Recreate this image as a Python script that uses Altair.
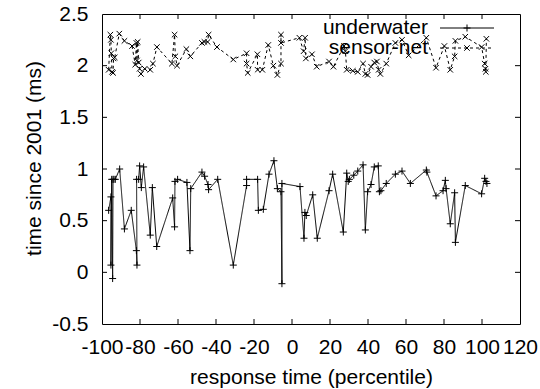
import altair as alt
import pandas as pd

# ---- data ----
uw_x = [-96.5, -95.3, -95.3, -94.9, -94.4, -94.2, -93.7, -93.0, -90.7, -88.2,
        -84.6, -81.9, -81.6, -81.8, -80.7, -80.2, -79.3, -78.1, -74.6, -73.5,
        -71.2, -62.8, -61.8, -61.6, -60.2, -55.3, -53.7, -53.3, -47.4, -46.0,
        -44.2, -43.9, -39.1, -30.9, -23.9, -23.9, -18.1, -17.7, -15.1, -12.1,
        -9.5, -7.7, -5.8, -5.3, -5.3, 4.2, 6.3, 6.8, 7.5, 10.9,
        13.3, 19.5, 21.4, 27.0, 28.8, 29.6, 30.2, 32.5, 34.6, 37.4,
        38.6, 39.8, 41.6, 43.3, 45.4, 46.0, 46.8, 49.6, 54.4, 57.9,
        62.3, 70.7, 71.0, 75.8, 79.5, 80.7, 81.1, 83.3, 85.6, 86.0,
        91.2, 99.8, 101.4, 102.1, 102.6]
uw_y = [0.60, 0.73, 0.07, 0.90, -0.06, 0.90, 0.90, 0.90, 1.00, 0.42,
        0.60, 0.21, 0.07, 0.90, 0.90, 1.03, 0.82, 1.02, 0.36, 0.82,
        0.25, 0.72, 0.44, 0.88, 0.90, 0.87, 0.21, 0.81, 0.97, 0.93,
        0.85, 0.80, 0.90, 0.07, 0.84, 0.90, 0.90, 0.60, 0.61, 0.95,
        1.08, 0.81, 0.78, -0.11, 0.86, 0.83, 0.33, 0.58, 0.55, 0.75,
        0.33, 0.79, 0.95, 0.39, 0.96, 0.88, 0.90, 0.94, 0.98, 1.04,
        0.41, 0.78, 0.85, 1.02, 1.03, 0.78, 0.79, 0.86, 0.95, 0.98,
        0.86, 0.99, 0.97, 0.74, 0.79, 0.89, 0.81, 0.47, 0.77, 0.29,
        0.84, 0.76, 0.91, 0.88, 0.86]

sn_x = [-96.5, -95.6, -95.3, -95.1, -94.7, -94.2, -93.9, -93.3, -90.9, -88.2,
        -84.2, -82.5, -81.9, -81.6, -81.2, -80.7, -80.2, -79.5, -77.5, -74.6,
        -73.2, -71.1, -63.2, -61.8, -61.4, -60.5, -55.6, -53.5, -47.4, -46.1,
        -44.4, -43.9, -39.5, -30.9, -23.9, -23.9, -23.3, -18.2, -18.1, -15.6,
        -12.5, -9.8, -7.7, -5.8, -5.8, -5.8, 3.9, 6.1, 6.9, 7.3,
        10.5, 13.0, 19.5, 21.8, 27.4, 28.1, 28.8, 32.0, 34.6, 37.4,
        38.6, 39.8, 41.6, 43.3, 44.7, 45.6, 46.5, 49.6, 54.4, 57.9,
        61.4, 70.7, 75.8, 80.2, 83.3, 85.6, 86.0, 91.2, 99.8, 101.4,
        101.8, 102.0, 102.3]
sn_y = [1.96, 2.30, 2.25, 2.12, 1.94, 1.93, 2.07, 2.08, 2.31, 2.24,
        2.19, 2.01, 2.22, 2.05, 2.23, 2.03, 1.97, 1.92, 1.97, 1.96,
        2.02, 2.18, 2.02, 2.30, 2.09, 2.00, 2.16, 2.09, 2.22, 2.23,
        2.23, 2.30, 2.18, 2.06, 2.12, 2.02, 1.93, 2.11, 1.96, 1.96,
        2.20, 2.00, 1.91, 2.02, 2.30, 2.22, 2.27, 2.14, 2.27, 2.07,
        2.11, 1.99, 2.04, 1.99, 2.19, 2.14, 1.96, 1.95, 1.94, 2.02,
        1.92, 1.91, 1.99, 2.03, 2.04, 1.96, 1.92, 2.02, 2.22, 2.25,
        2.10, 2.27, 1.98, 2.19, 1.96, 2.09, 2.24, 2.28, 2.18, 2.02,
        1.97, 1.94, 2.26]

x_ticks = [-100, -80, -60, -40, -20, 0, 20, 40, 60, 80, 100, 120]
y_ticks = [-0.5, 0, 0.5, 1, 1.5, 2, 2.5]
series_names = ["underwater", "sensor-net"]

W, H = 418, 310
FONT = "Liberation Sans"
FS = 21
PLUS = "M-1,0L1,0M0,-1L0,1"
CROSS = "M-1,-1L1,1M-1,1L1,-1"

uw = pd.DataFrame({"x": uw_x, "y": uw_y, "i": range(len(uw_x))})
sn = pd.DataFrame({"x": sn_x, "y": sn_y, "i": range(len(sn_x))})

xs = alt.Scale(domain=[-100, 120], nice=False, zero=False)
ys = alt.Scale(domain=[-0.5, 2.5], nice=False, zero=False)

x_axis = alt.Axis(values=x_ticks, title="response time (percentile)",
                  labelExpr="'' + datum.value", labelOverlap=False,
                  labelFlush=False, labelBound=False,
                  labelPadding=12, titleY=59, titleBaseline="alphabetic")
y_axis = alt.Axis(values=y_ticks, title="time since 2001 (ms)",
                  labelExpr="'' + datum.value", labelOverlap=False,
                  labelFlush=False, labelBound=False,
                  labelPadding=14, titleX=-62, titleY=144, titleAngle=270,
                  titleAlign="center", titleBaseline="alphabetic")

def series(df, dash, shape, size):
    base = alt.Chart(df).encode(
        x=alt.X("x:Q", scale=xs, axis=x_axis),
        y=alt.Y("y:Q", scale=ys, axis=y_axis),
        order="i:Q",
    )
    line = base.mark_line(color="black", strokeWidth=1, strokeDash=dash)
    pts = base.mark_point(shape=shape, size=size, filled=False,
                          color="black", strokeWidth=1, opacity=1)
    return line + pts

uw_layer = series(uw, [1, 0], PLUS, 49)
sn_layer = series(sn, [3, 3], CROSS, 30)

# inward tick marks on all four sides (gnuplot style)
xt = pd.DataFrame({"x": x_ticks[1:-1]})
yt = pd.DataFrame({"y": y_ticks[1:-1]})
TL = 5
tb = alt.Chart(xt).mark_rule(color="black").encode(
    x=alt.X("x:Q", scale=xs, axis=x_axis), y=alt.value(H), y2=alt.value(H - TL))
tt = alt.Chart(xt).mark_rule(color="black").encode(
    x=alt.X("x:Q", scale=xs, axis=x_axis), y=alt.value(0), y2=alt.value(TL))
tl = alt.Chart(yt).mark_rule(color="black").encode(
    y=alt.Y("y:Q", scale=ys, axis=y_axis), x=alt.value(0), x2=alt.value(TL))
tr = alt.Chart(yt).mark_rule(color="black").encode(
    y=alt.Y("y:Q", scale=ys, axis=y_axis), x=alt.value(W), x2=alt.value(W - TL))

# legend (key box inside the plot, top right)
one = pd.DataFrame({"k": [0]})
legend_layers = []
for name, ypix, dash, shape, size in [
        (series_names[0], 14, [1, 0], PLUS, 49),
        (series_names[1], 34, [3, 3], CROSS, 30)]:
    legend_layers.append(alt.Chart(one).mark_text(
        align="right", baseline="middle", fontSize=FS, font=FONT, color="black"
    ).encode(x=alt.value(326), y=alt.value(ypix), text=alt.value(name)))
    legend_layers.append(alt.Chart(one).mark_rule(
        color="black", strokeWidth=1, strokeDash=dash
    ).encode(x=alt.value(338), x2=alt.value(392), y=alt.value(ypix)))
    legend_layers.append(alt.Chart(one).mark_point(
        shape=shape, size=size, filled=False, color="black", strokeWidth=1, opacity=1
    ).encode(x=alt.value(365), y=alt.value(ypix)))

chart = alt.layer(uw_layer, sn_layer, tb, tt, tl, tr, *legend_layers).properties(
    width=W, height=H,
    autosize=alt.AutoSizeParams(type="none"),
    padding={"left": 102, "top": 14, "right": 20, "bottom": 65},
).configure(font=FONT, background="white").configure_view(
    stroke="black", strokeWidth=1
).configure_axis(
    grid=False, domain=False, ticks=False, tickSize=0,
    labelFontSize=FS, titleFontSize=FS, labelFont=FONT, titleFont=FONT,
    labelColor="black", titleColor="black", titleFontWeight="normal",
)

chart.save("out.html", embed_options={"renderer": "svg", "actions": False})
